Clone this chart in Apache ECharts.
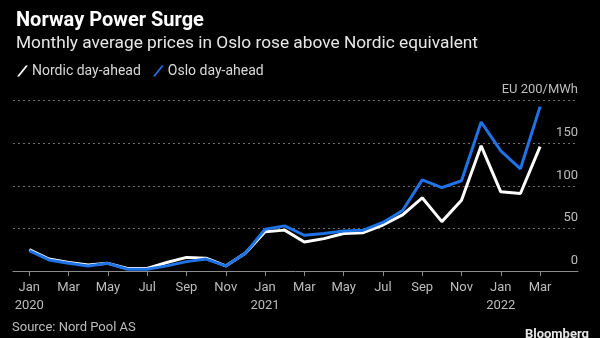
<!DOCTYPE html>
<html>
<head>
<meta charset="utf-8">
<script src="https://cdn.jsdelivr.net/npm/echarts@6/dist/echarts.min.js"></script>
<style>
  html, body { margin: 0; padding: 0; background: #000; }
  #chart { width: 600px; height: 338px; }
</style>
</head>
<body>
<div id="chart"></div>
<script>
// Monthly average day-ahead prices, EUR/MWh, Jan 2020 – Mar 2022
const months = [
  '2020-01','2020-02','2020-03','2020-04','2020-05','2020-06','2020-07','2020-08','2020-09','2020-10','2020-11','2020-12',
  '2021-01','2021-02','2021-03','2021-04','2021-05','2021-06','2021-07','2021-08','2021-09','2021-10','2021-11','2021-12',
  '2022-01','2022-02','2022-03'
];
const nordic = [25, 14, 10, 7, 9, 3, 3, 10, 16, 15, 6, 21, 46, 48, 34, 38, 44, 45, 54, 66, 86, 58, 83, 147, 93, 91, 146];
const oslo   = [24, 13, 9, 6, 9, 2, 2, 6, 11, 14, 6, 21, 49, 53, 42, 44, 47, 48, 57, 71, 107, 98, 106, 175, 141, 120, 193];
const yTicks = [0, 50, 100, 150, 200];
const monthNames = ['Jan','Feb','Mar','Apr','May','Jun','Jul','Aug','Sep','Oct','Nov','Dec'];

const tickIdx = months.map((m, i) => i).filter(i => i % 2 === 0);
const toPairs = arr => arr.map((v, i) => [i, v]);

const font = 'Roboto, "Liberation Sans", Arial, sans-serif';
const slash = 'path://M0,10 L2,10 L10,0 L8,0 Z';

const chart = echarts.init(document.getElementById('chart'));
chart.setOption({
  backgroundColor: '#000',
  animation: false,
  textStyle: { fontFamily: font },
  title: {
    text: 'Norway Power Surge',
    subtext: 'Monthly average prices in Oslo rose above Nordic equivalent',
    left: 11, top: 6, itemGap: 4,
    textStyle: { color: '#fff', fontSize: 20, fontWeight: 'bold', fontFamily: font },
    subtextStyle: { color: '#e6e6e6', fontSize: 17.3, fontFamily: font }
  },
  legend: {
    left: 12, top: 59,
    itemWidth: 11, itemHeight: 12, itemGap: 12,
    textStyle: { color: '#d9d9d9', fontSize: 14, padding: [0, 0, 0, -1] },
    data: [
      { name: 'Nordic day-ahead', icon: slash, itemStyle: { color: '#ffffff' } },
      { name: 'Oslo day-ahead', icon: slash, itemStyle: { color: '#1f73e6' } }
    ]
  },
  grid: { left: 13, right: 22, top: 100.7, bottom: 67 },
  xAxis: {
    type: 'value',
    min: -0.83, max: 27.93,
    splitLine: { show: false },
    axisLine: { show: true, lineStyle: { color: '#8c8c8c', width: 1 } },
    axisTick: { show: true, length: 5, lineStyle: { color: '#8c8c8c' }, customValues: tickIdx },
    axisLabel: {
      customValues: tickIdx,
      color: '#bdbdbd', fontSize: 13, lineHeight: 18, margin: 8,
      formatter: v => {
        const [y, m] = months[v].split('-');
        const name = monthNames[parseInt(m, 10) - 1];
        return m === '01' ? name + '\n' + y : name;
      }
    }
  },
  yAxis: {
    type: 'value',
    position: 'right',
    min: 0, max: 200, interval: 50,
    axisLine: { show: false },
    axisTick: { show: false },
    splitLine: { show: true, lineStyle: { color: '#6e6e6e', type: [2, 3], width: 1 } },
    axisLabel: {
      inside: true, margin: 0,
      color: '#bdbdbd', fontSize: 13,
      verticalAlign: 'bottom', padding: [0, 0, 4, 0],
      formatter: v => (v === yTicks[yTicks.length - 1] ? 'EU ' + v + '/MWh' : String(v))
    }
  },
  series: [
    {
      name: 'Nordic day-ahead', type: 'line', data: toPairs(nordic),
      showSymbol: false, lineStyle: { color: '#ffffff', width: 3 }, itemStyle: { color: '#ffffff' }, z: 2
    },
    {
      name: 'Oslo day-ahead', type: 'line', data: toPairs(oslo),
      showSymbol: false, lineStyle: { color: '#1f73e6', width: 3 }, itemStyle: { color: '#1f73e6' }, z: 3
    }
  ],
  graphic: [
    { type: 'text', left: 12, top: 321, style: { text: 'Source: Nord Pool AS', fill: '#bdbdbd', font: '13px ' + font } },
    { type: 'text', right: 11, top: 328, style: { text: 'Bloomberg', fill: '#e6e6e6', font: 'bold 13px ' + font } }
  ]
});
</script>
</body>
</html>
